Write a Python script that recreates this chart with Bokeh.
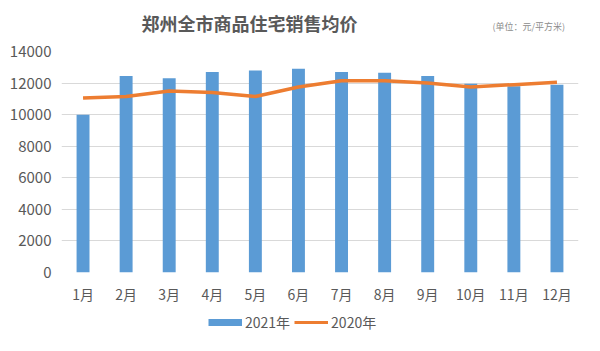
from bokeh.plotting import figure
from bokeh.layouts import column
from bokeh.models import (FactorRange, Range1d, Label, Legend, LegendItem,
                          ColumnDataSource, FixedTicker, NumeralTickFormatter)
from bokeh.embed import file_html
from bokeh.resources import INLINE

months = ["1月", "2月", "3月", "4月", "5月", "6月", "7月", "8月", "9月", "10月", "11月", "12月"]
price_2021 = [10000, 12450, 12300, 12700, 12800, 12900, 12700, 12650, 12450, 11950, 11800, 11900]
price_2020 = [11050, 11150, 11500, 11400, 11150, 11750, 12150, 12150, 12000, 11750, 11900, 12050]
y_ticks = [0, 2000, 4000, 6000, 8000, 10000, 12000, 14000]

title_text = "郑州全市商品住宅销售均价"
unit_text = "(单位：元/平方米)"
label_2021 = "2021年"
label_2020 = "2020年"

FONT = "Noto Sans CJK SC"
BLUE = "#5B9BD5"
ORANGE = "#ED7D31"
GRAY = "#595959"

LEFT = 61
RIGHT = 22
HEAD_H = 38
FOOT_H = 45
MAIN_H = 351 - HEAD_H - FOOT_H


def blank(height):
    f = figure(width=600, height=height, output_backend="svg", toolbar_location=None,
               x_range=Range1d(0, 1), y_range=Range1d(0, 1),
               x_axis_location=None, y_axis_location=None,
               min_border_left=LEFT, min_border_right=RIGHT,
               min_border_top=0, min_border_bottom=0)
    f.grid.visible = False
    f.outline_line_color = None
    return f


# header with title and unit text (screen x measured from the aligned frame left)
h = blank(HEAD_H)
h.add_layout(Label(x=249 - LEFT, y=HEAD_H - 22, x_units="screen", y_units="screen",
                   text=title_text, text_font=FONT, text_font_size="18px", text_color=GRAY,
                   text_align="center", text_baseline="middle", text_font_style="bold"))
h.add_layout(Label(x=492 - LEFT, y=HEAD_H - 26, x_units="screen", y_units="screen",
                   text=unit_text, text_font=FONT, text_font_size="9px", text_color="#8C8C8C",
                   text_align="left", text_baseline="middle"))

# main chart
src = ColumnDataSource(dict(m=months, a=price_2021, b=price_2020))
p = figure(width=600, height=MAIN_H, output_backend="svg", toolbar_location=None,
           x_range=FactorRange(*months, range_padding=0),
           y_range=Range1d(0, 14000),
           min_border_left=LEFT, min_border_right=RIGHT, min_border_top=51 - HEAD_H,
           min_border_bottom=MAIN_H - (272 - HEAD_H))
p.outline_line_color = None

p.vbar(x="m", top="a", width=0.3, source=src, fill_color=BLUE, line_color=None)
p.line(x="m", y="b", source=src, line_color=ORANGE, line_width=3.5, line_join="round")

p.yaxis.ticker = FixedTicker(ticks=y_ticks)
p.yaxis.formatter = NumeralTickFormatter(format="0")
for ax in (p.xaxis[0], p.yaxis[0]):
    ax.axis_line_color = None
    ax.major_tick_line_color = None
    ax.minor_tick_line_color = None
    ax.major_tick_out = 0
    ax.major_label_text_font = FONT
    ax.major_label_text_color = GRAY
p.yaxis.major_label_text_font_size = "15px"
p.yaxis.major_label_standoff = 10
p.xaxis.major_label_text_font_size = "14px"
p.xaxis.major_label_standoff = 11

p.xgrid.grid_line_color = None
p.ygrid.grid_line_color = "#D9D9D9"
p.ygrid.grid_line_width = 1

# footer with legend (swatch renderers hold no visible data)
f = blank(FOOT_H)
nan = float("nan")
d1 = f.line(x=[nan], y=[nan], line_color=BLUE, line_width=7)
d2 = f.line(x=[nan], y=[nan], line_color=ORANGE, line_width=3)
legend = Legend(items=[LegendItem(label=label_2021, renderers=[d1], index=0),
                       LegendItem(label=label_2020, renderers=[d2], index=0)],
                orientation="horizontal", location=(208 - LEFT, FOOT_H - 19 - 7),
                glyph_width=34, glyph_height=14, label_height=14,
                label_standoff=3, spacing=4, padding=0, margin=0,
                border_line_color=None, background_fill_alpha=0,
                label_text_font=FONT, label_text_font_size="14px", label_text_color=GRAY)
f.add_layout(legend, "center")

layout = column(h, p, f, spacing=0)
open("out.html", "w").write(file_html(layout, INLINE))
